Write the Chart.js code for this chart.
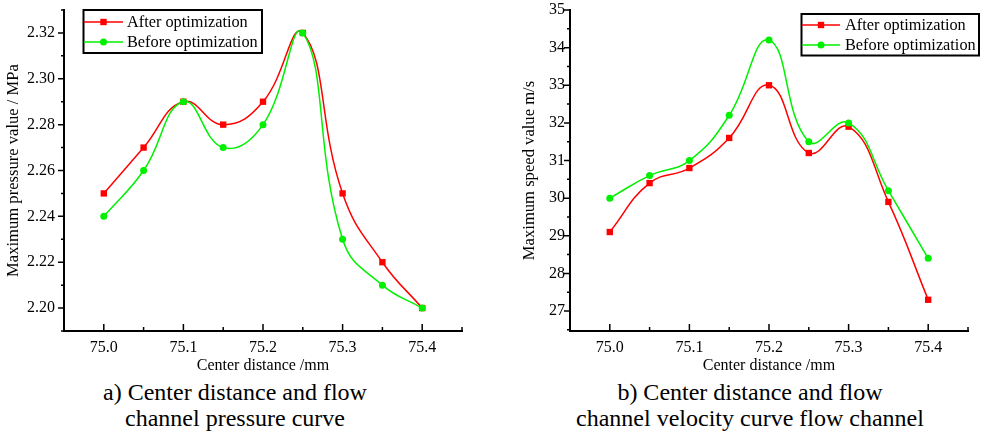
<!DOCTYPE html>
<html>
<head>
<meta charset="utf-8">
<script src="https://cdn.jsdelivr.net/npm/chart.js@4/dist/chart.umd.min.js"></script>
<style>
  body { margin: 0; background: #fff; }
  #wrap { position: relative; width: 984px; height: 432px; overflow: hidden; background: #fff;
          font-family: "Liberation Serif", "Times New Roman", serif; color: #000; }
  canvas { position: absolute; top: 0; }
  .caption { position: absolute; top: 379px; font-size: 24px; line-height: 26px;
             text-align: center; white-space: nowrap; }
</style>
</head>
<body>
<div id="wrap">
  <canvas id="pressureChart" width="480" height="375" style="left:0"></canvas>
  <canvas id="speedChart" width="484" height="375" style="left:500px"></canvas>
  <div class="caption" style="left:0;width:470px">a) Center distance and flow<br>channel pressure curve</div>
  <div class="caption" style="left:500px;width:500px">b) Center distance and flow<br>channel velocity curve flow channel</div>
</div>
<script>
// --- Data ---
const centerDistance = [75.0, 75.05, 75.1, 75.15, 75.2, 75.25, 75.3, 75.35, 75.4];
const pressureAfter  = [2.25, 2.27, 2.29, 2.28, 2.29, 2.32, 2.25, 2.22, 2.20];
const pressureBefore = [2.24, 2.26, 2.29, 2.27, 2.28, 2.32, 2.23, 2.21, 2.20];
const speedAfter     = [29.1, 30.4, 30.8, 31.6, 33.0, 31.2, 31.9, 29.9, 27.3];
const speedBefore    = [30.0, 30.6, 31.0, 32.2, 34.2, 31.5, 32.0, 30.2, 28.4];

const xTicks        = [75.0, 75.1, 75.2, 75.3, 75.4];
const pressureTicks = [2.20, 2.22, 2.24, 2.26, 2.28, 2.30, 2.32];
const speedTicks    = [27, 28, 29, 30, 31, 32, 33, 34, 35];

const seriesNames = ['After optimization', 'Before optimization'];
const RED = '#ff0000';
const GREEN = '#00f000';
const FONT = '"Liberation Serif", "Times New Roman", serif';

const toPoints = (ys) => ys.map((y, i) => ({ x: centerDistance[i], y: y }));

// midpoints between major ticks, plus one step past each end if still on the axis
function minorTicks(major, min, max) {
    const step = major[1] - major[0];
    const out = [];
    for (let i = -1; i < major.length; i++) {
        const v = major[0] + (i + 0.5) * step;
        if (v >= min - 1e-9 && v <= max + 1e-9) out.push(v);
    }
    return out;
}

// Origin-style ticks: x ticks point into the plot, y ticks point outward
const axisTicks = {
    id: 'axisTicks',
    afterDraw(chart) {
        const { ctx, scales: { x, y } } = chart;
        const area = chart.chartArea;
        ctx.save();
        ctx.strokeStyle = '#000';
        ctx.lineWidth = 1.5;
        ctx.beginPath();
        x.ticks.forEach(t => {
            const px = x.getPixelForValue(t.value);
            ctx.moveTo(px, area.bottom); ctx.lineTo(px, area.bottom - 7);
        });
        minorTicks(x.ticks.map(t => t.value), x.min, x.max).forEach(v => {
            const px = x.getPixelForValue(v);
            ctx.moveTo(px, area.bottom); ctx.lineTo(px, area.bottom - 4);
        });
        y.ticks.forEach(t => {
            const py = y.getPixelForValue(t.value);
            ctx.moveTo(area.left, py); ctx.lineTo(area.left - 6, py);
        });
        minorTicks(y.ticks.map(t => t.value), y.min, y.max).forEach(v => {
            const py = y.getPixelForValue(v);
            ctx.moveTo(area.left, py); ctx.lineTo(area.left - 3, py);
        });
        ctx.stroke();
        ctx.restore();
    }
};

// boxed legend drawn inside the plot
const boxLegend = {
    id: 'boxLegend',
    afterDraw(chart, args, opts) {
        const { ctx } = chart;
        const [x1, y1, x2, y2] = opts.box;
        ctx.save();
        ctx.fillStyle = '#fff';
        ctx.fillRect(x1, y1, x2 - x1, y2 - y1);
        ctx.strokeStyle = '#000';
        ctx.lineWidth = 2;
        ctx.strokeRect(x1, y1, x2 - x1, y2 - y1);
        const styles = [
            { color: RED, shape: 'rect' },
            { color: GREEN, shape: 'circle' }
        ];
        ctx.font = '16.3px ' + FONT;
        ctx.textBaseline = 'middle';
        seriesNames.forEach((name, i) => {
            const ry = opts.rows[i];
            const s = styles[i];
            ctx.strokeStyle = s.color;
            ctx.fillStyle = s.color;
            ctx.lineWidth = 1.5;
            ctx.beginPath();
            ctx.moveTo(opts.line[0], ry); ctx.lineTo(opts.line[1], ry);
            ctx.stroke();
            const mx = (opts.line[0] + opts.line[1]) / 2;
            if (s.shape === 'rect') {
                ctx.fillRect(mx - 3.2, ry - 3.2, 6.4, 6.4);
            } else {
                ctx.beginPath(); ctx.arc(mx, ry, 3.5, 0, Math.PI * 2); ctx.fill();
            }
            ctx.fillStyle = '#000';
            ctx.fillText(name, opts.textX, ry + 1);
        });
        ctx.restore();
    }
};

function buildChart(canvasId, after, before, yTicks, yMin, yMax, yTitle, decimals, geo) {
    return new Chart(document.getElementById(canvasId), {
        type: 'line',
        data: {
            datasets: [
                {
                    label: seriesNames[0],
                    data: toPoints(after),
                    borderColor: RED,
                    backgroundColor: RED,
                    borderWidth: 1.5,
                    pointStyle: 'rect',
                    pointRadius: 4.5,
                    pointBorderWidth: 0,
                    tension: 0.45,
                    order: 1
                },
                {
                    label: seriesNames[1],
                    data: toPoints(before),
                    borderColor: GREEN,
                    backgroundColor: GREEN,
                    borderWidth: 1.5,
                    pointStyle: 'circle',
                    pointRadius: 3.5,
                    pointBorderWidth: 0,
                    tension: 0.45,
                    order: 0
                }
            ]
        },
        options: {
            responsive: false,
            animation: false,
            layout: { padding: { top: 10, right: geo.padRight, left: 0, bottom: 0 } },
            scales: {
                x: {
                    type: 'linear',
                    min: 74.95,
                    max: 75.45,
                    afterBuildTicks: (s) => { s.ticks = xTicks.map(v => ({ value: v })); },
                    afterFit: (s) => {
                        s.height = 44;
                        s.paddingLeft = 0; s.paddingRight = 0;
                    },
                    grid: { display: false, drawTicks: false },
                    border: { display: true, color: '#000', width: 2 },
                    ticks: {
                        padding: 7,
                        color: '#000',
                        font: { family: FONT, size: 16 },
                        callback: (v) => Number(v).toFixed(1)
                    },
                    title: {
                        display: true,
                        text: 'Center distance /mm',
                        color: '#000',
                        font: { family: FONT, size: 16 },
                        padding: { top: 0, bottom: 0 }
                    }
                },
                y: {
                    min: yMin,
                    max: yMax,
                    afterBuildTicks: (s) => { s.ticks = yTicks.map(v => ({ value: v })); },
                    afterFit: (s) => {
                        s.width = geo.yWidth;
                        s.paddingTop = 0; s.paddingBottom = 0;
                    },
                    grid: { display: false, drawTicks: false },
                    border: { display: true, color: '#000', width: 2 },
                    ticks: {
                        padding: geo.labelPad,
                        color: '#000',
                        font: { family: FONT, size: 16 },
                        callback: (v) => Number(v).toFixed(decimals)
                    },
                    title: {
                        display: true,
                        text: yTitle,
                        color: '#000',
                        font: { family: FONT, size: 16.6 },
                        padding: { top: geo.titlePad, bottom: 0 }
                    }
                }
            },
            plugins: {
                legend: { display: false },
                tooltip: { enabled: false },
                boxLegend: geo.legend
            }
        },
        plugins: [axisTicks, boxLegend]
    });
}

buildChart('pressureChart', pressureAfter, pressureBefore, pressureTicks, 2.19, 2.33,
    'Maximum pressure value / MPa', 2,
    { padRight: 18, yWidth: 64, labelPad: 9, titlePad: 4,
      legend: { box: [83.5, 10, 262, 53], rows: [22, 42], line: [84, 123], textX: 127 } });

buildChart('speedChart', speedAfter, speedBefore, speedTicks, 26.47, 35,
    'Maximum speed value m/s', 0,
    { padRight: 16, yWidth: 70, labelPad: 5, titlePad: 20,
      legend: { box: [301.5, 14, 479, 55.5], rows: [25, 45], line: [302, 340], textX: 345 } });
</script>
</body>
</html>
